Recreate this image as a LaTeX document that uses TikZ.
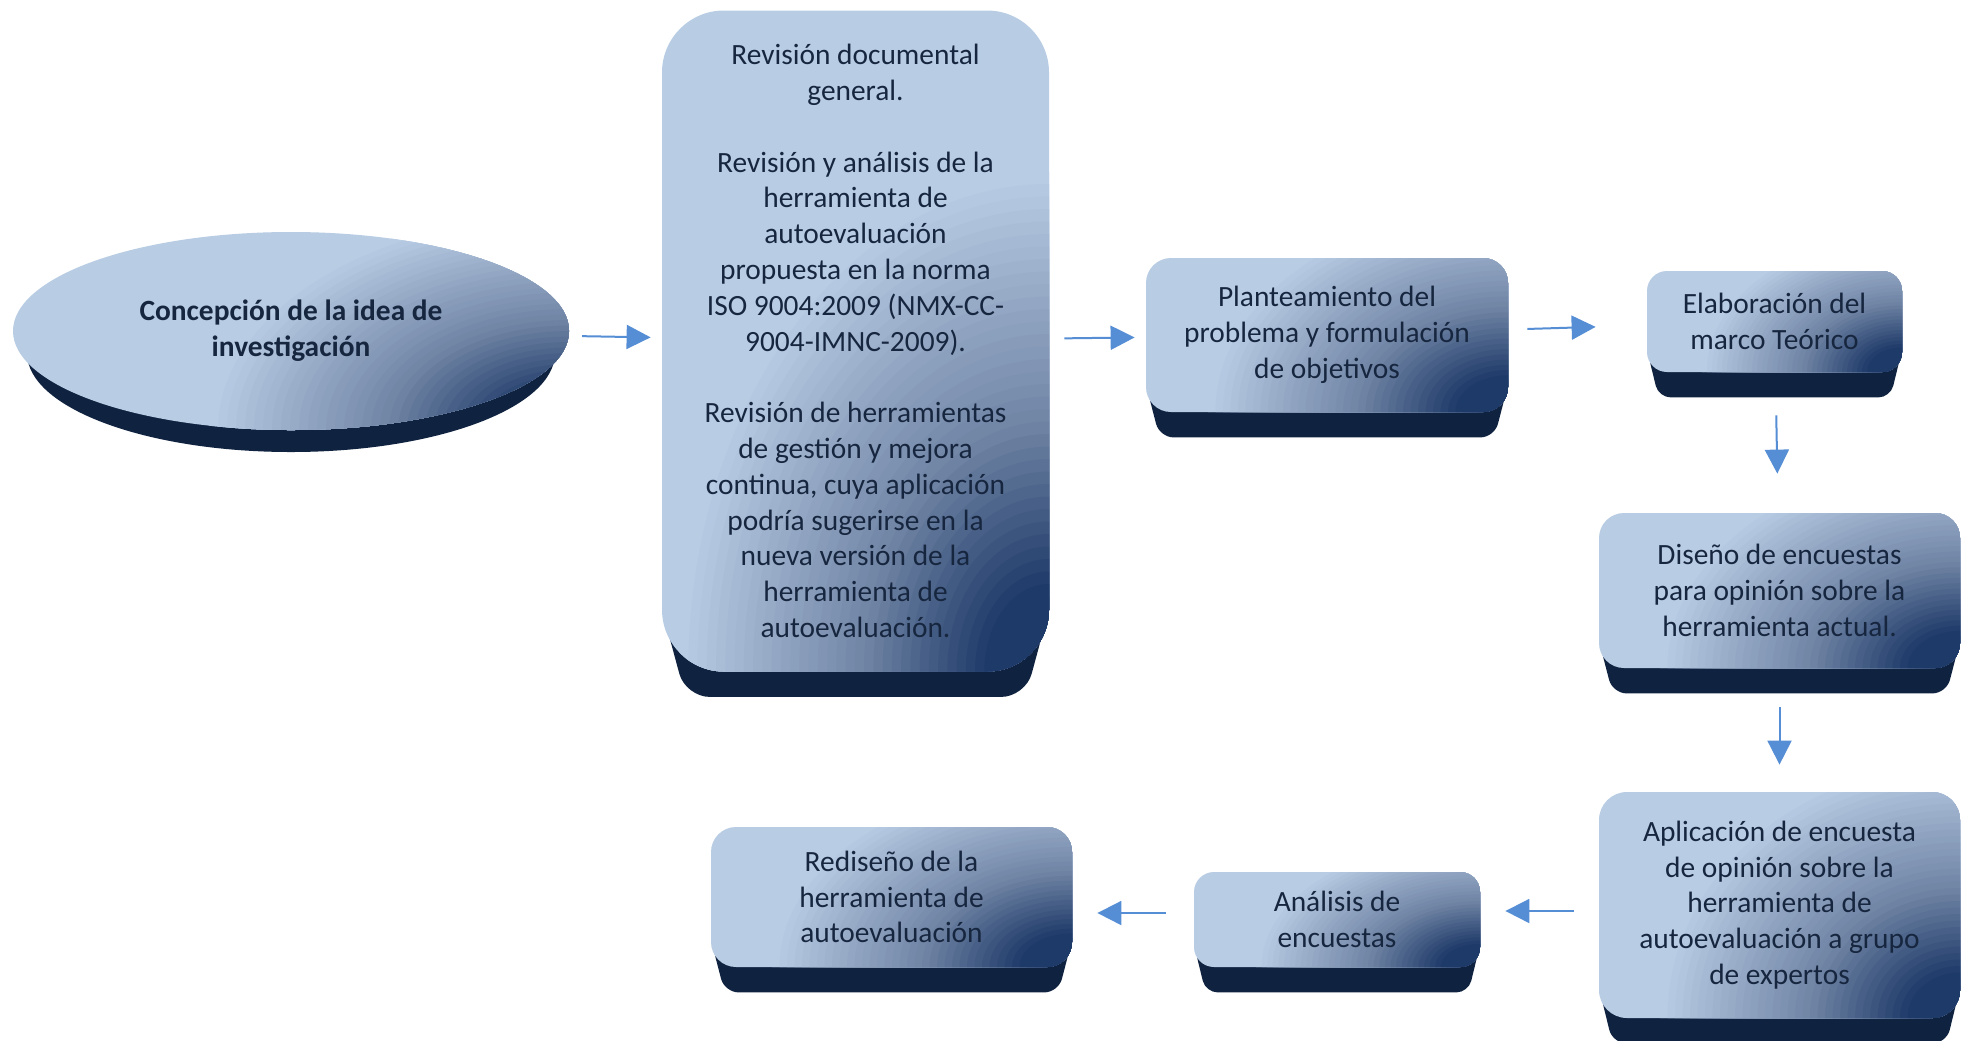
\documentclass[tikz,border=0pt]{standalone}
\usepackage{fontspec}
\setmainfont{Carlito}
\usetikzlibrary{shapes.geometric,arrows.meta,calc,backgrounds}
\definecolor{faceL}{HTML}{B8CCE4}
\definecolor{glowA}{HTML}{1E3A68}
\definecolor{glowM}{HTML}{6E82A3}
\definecolor{sideD}{HTML}{0F2240}
\definecolor{txt}{HTML}{17263F}
\definecolor{arr}{HTML}{558ED5}
\tikzset{
  glowfill/.style 2 args={path picture={
    \foreach \i in {40,39,...,1}{
      \pgfmathsetmacro\glT{\i/40}
      \pgfmathsetmacro\glA{min(100,max(0,(1-\glT)/0.5*100))}
      \pgfmathsetmacro\glB{min(100,max(0,(0.5-\glT)/0.32*100))}
      \fill[glowA!\glB!glowM!\glA!faceL] (path picture bounding box.south east) ellipse [x radius=\glT*#1, y radius=\glT*#2];
    }}},
  facebox/.style={rectangle, rounded corners=#1, inner sep=0pt, fill=faceL, text=txt, align=center, font=\fontsize{14.7}{17.9}\selectfont},
  faceell/.style={ellipse, inner sep=0pt, fill=faceL, text=txt, align=center, font=\fontsize{14.7}{17.9}\selectfont\bfseries},
  conn/.style={draw=arr, line width=1pt, -{Triangle[length=12pt,width=12pt]}},
}
\newcommand\drawside[5]{%
  \fill[sideD, rounded corners=#5] ($(#1.south west)+(1,-#3)$) -- ($(#1.south west)+(#4,#2)$) -- ($(#1.south east)+(-#4,#2)$) -- ($(#1.south east)+(-1,-#3)$) -- cycle;}
\begin{document}
\begin{tikzpicture}[x=0.5pt,y=-0.5pt]
\useasboundingbox (0,0) rectangle (1970,1040);

\node[faceell, glowfill={180pt}{110pt}, minimum width=278pt, minimum height=99pt] (ell) at (291,331)
  {Concepción de la idea de\\investigación};

\node[facebox=31pt, glowfill={185pt}{250pt}, minimum width=193.5pt, minimum height=330.5pt] (rev) at (855.5,341)
  {Revisión documental\\general.\\[17.9pt]
   Revisión y análisis de la\\herramienta de\\autoevaluación\\propuesta en la norma\\ISO 9004:2009 (NMX-CC-\\9004-IMNC-2009).\\[17.9pt]
   Revisión de herramientas\\de gestión y mejora\\continua, cuya aplicación\\podría sugerirse en la\\nueva versión de la\\herramienta de\\autoevaluación.};

\node[facebox=12.5pt, glowfill={150pt}{105pt}, minimum width=181pt, minimum height=77pt] (plant) at (1327,335)
  {Planteamiento del\\problema y formulación\\de objetivos};

\node[facebox=10pt, glowfill={100pt}{70pt}, minimum width=127.5pt, minimum height=50.5pt] (elab) at (1774.5,321.5)
  {Elaboración del\\marco Teórico};

\node[facebox=12.5pt, glowfill={150pt}{106pt}, minimum width=180.5pt, minimum height=77.5pt] (dis) at (1779.5,590.5)
  {Diseño de encuestas\\para opinión sobre la\\herramienta actual.};

\node[facebox=14pt, glowfill={150pt}{130pt}, minimum width=180.5pt, minimum height=113pt] (apl) at (1779.5,905)
  {Aplicación de encuesta\\de opinión sobre la\\herramienta de\\autoevaluación a grupo\\de expertos};

\node[facebox=10pt, glowfill={112pt}{66pt}, minimum width=143pt, minimum height=47.5pt] (anal) at (1337,919.5)
  {Análisis de\\encuestas};

\node[facebox=12.5pt, glowfill={150pt}{96pt}, minimum width=180.5pt, minimum height=70pt] (red) at (891.5,897)
  {Rediseño de la\\herramienta de\\autoevaluación};

\begin{scope}[on background layer]
  \fill[white] (0,0) rectangle (1970,1040);
  \fill[sideD] ($(ell.center)+(0,22)$) ellipse [x radius=132pt, y radius=49.5pt];
  \drawside{rev}{25}{60}{24}{12pt}
  \drawside{plant}{25}{25}{14}{7pt}
  \drawside{elab}{25}{20}{12}{6pt}
  \drawside{dis}{25}{25}{14}{7pt}
  \drawside{apl}{25}{28}{14}{7pt}
  \drawside{anal}{25}{20}{12}{6pt}
  \drawside{red}{25}{25}{14}{7pt}
\end{scope}

\draw[conn, shorten <=6.5pt, shorten >=5.5pt] (ell) -- (rev);
\draw[conn, shorten <=7.5pt, shorten >=5.5pt] (rev) -- (plant);
\draw[conn, shorten <=9.5pt, shorten >=25.5pt] (plant) -- (elab);
\draw[conn, shorten <=21.5pt, shorten >=19.5pt] (elab) -- (dis);
\draw[conn, shorten <=19.5pt, shorten >=13.5pt] (dis) -- (apl);
\draw[conn, shorten <=12.5pt, shorten >=12.5pt] ($(apl.west |- anal.east)+(0,-8.5)$) -- ($(anal.east)+(0,-8.5)$);
\draw[conn, shorten <=14pt, shorten >=12.5pt] ($(anal.west)+(0,-6.5)$) -- ($(red.east |- anal.west)+(0,-6.5)$);
\end{tikzpicture}
\end{document}
